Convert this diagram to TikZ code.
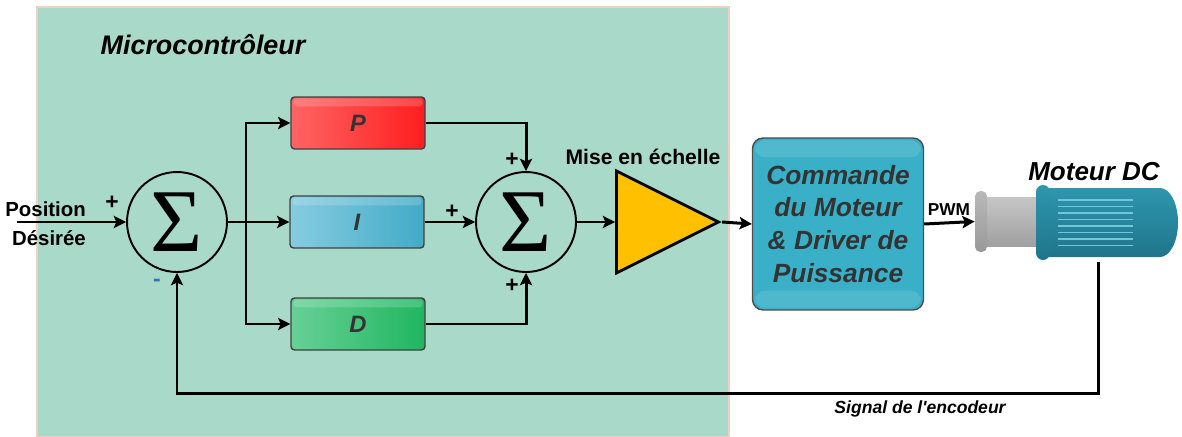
\documentclass[tikz,border=0pt]{standalone}
\usepackage{fontspec}
\setmainfont{Liberation Sans}
\newfontfamily\sigmafont{Liberation Serif}
\usetikzlibrary{arrows.meta}
\usetikzlibrary{shapes.geometric}
\usetikzlibrary{calc}

\definecolor{mcuGreen}{HTML}{A9D9C9}
\definecolor{mcuEdge}{HTML}{F0CFC4}
\definecolor{pLeft}{HTML}{FF6464}
\definecolor{pRight}{HTML}{FF1E1E}
\definecolor{iLeft}{HTML}{86CCE0}
\definecolor{iRight}{HTML}{42ABC7}
\definecolor{dLeft}{HTML}{68D096}
\definecolor{dRight}{HTML}{1FB660}
\definecolor{drvTeal}{HTML}{3AB0C8}
\definecolor{ampGold}{HTML}{FFC000}
\definecolor{txtGray}{HTML}{333333}
\definecolor{minusBlue}{HTML}{2E75B6}
\definecolor{bodyTop}{HTML}{2E96AE}
\definecolor{bodyMid}{HTML}{4FB3CA}
\definecolor{bodyBot}{HTML}{1F758B}
\definecolor{ridge}{HTML}{72C6DA}

\begin{document}
\begin{tikzpicture}[x = 0.02cm, y = -0.02cm, font = \bfseries]
\tikzstyle{WireStyle} = [line width = 1.7pt, -{Stealth[length = 7pt, width = 7pt, inset = 1.5pt]}]
\tikzstyle{LineStyle} = [line width = 1.7pt]
\tikzstyle{SumStyle} = [shape = circle, minimum size = 2cm, inner sep = 0pt, draw, line width = 1.1pt, font = \sigmafont\fontsize{51}{51}\selectfont]
\tikzstyle{GainStyle} = [shape = rectangle, rounded corners = 2pt, minimum width = 2.68cm, minimum height = 1.04cm, draw = black!75, line width = 0.8pt, text = txtGray, font = \fontsize{13.5}{14}\selectfont\bfseries\itshape]
\tikzstyle{GlossStyle} = [white, opacity = 0.18, rounded corners = 2pt]
\tikzstyle{SignStyle} = [inner sep = 0pt, font = \fontsize{13}{13}\selectfont\bfseries]
\tikzstyle{AmpStyle} = [shape = isosceles triangle, isosceles triangle stretches, shape border rotate = 0, minimum width = 2.04cm, minimum height = 2.04cm, inner sep = 0pt, draw, line width = 1.6pt, fill = ampGold]
\tikzstyle{DriverStyle} = [shape = rectangle, rounded corners = 6pt, minimum width = 3.42cm, minimum height = 3.44cm, draw = black!70, line width = 0.8pt, fill = drvTeal, align = center, text = txtGray, font = \fontsize{15}{18.7}\selectfont\bfseries\itshape]
\tikzstyle{ShaftStyle} = [shape = rectangle, minimum width = 1.2cm, minimum height = 1cm, inner sep = 0pt, top color = gray!45, middle color = gray!12, bottom color = gray!75]
\tikzstyle{PlugStyle} = [shape = rectangle, rounded corners = 3pt, minimum width = 0.24cm, minimum height = 1.22cm, inner sep = 0pt, top color = gray!55, middle color = gray!20, bottom color = gray!80]
\tikzstyle{BodyShade} = [top color = bodyTop, middle color = bodyMid, bottom color = bodyBot]
\useasboundingbox (0,0) rectangle (1182,436);
\fill[mcuGreen, draw = mcuEdge, line width = 0.6pt] (37,7) rectangle (729,437);
\node[font = \fontsize{15.3}{18}\selectfont\bfseries\itshape] (mcu) at (203,45) {Microcontrôleur};
\node[SumStyle] (s1) at (177,222) {Σ};
\node[SumStyle] (s2) at (526,222) {Σ};
\node[GainStyle, left color = pLeft, right color = pRight] (kp) at (358,123) {P};
\node[GainStyle, left color = iLeft, right color = iRight] (ki) at (357,222) {I};
\node[GainStyle, left color = dLeft, right color = dRight] (kd) at (358,324) {D};
\foreach \g in {kp, ki, kd}
  \fill[GlossStyle] ($(\g.north west)+(3,2)$) rectangle ($(\g.north east)+(-3,10)$);
\node[AmpStyle] (amp) at (648,222) {};
\node[DriverStyle] (drv) at (838,224) {Commande\\du Moteur\\\& Driver de\\Puissance};
\fill[white, opacity = 0.12, rounded corners = 6pt] ($(drv.north west)+(3,3)$) rectangle ($(drv.north east)+(-3,20)$);
\fill[white, opacity = 0.1, rounded corners = 6pt] ($(drv.south west)+(3,-20)$) rectangle ($(drv.south east)+(-3,-3)$);
\node[ShaftStyle] (shaft) at (1012,222) {};
\node[PlugStyle] (plug) at (981,221.5) {};
\shade[BodyShade] (1046,188) -- (1160,188) arc[start angle = -90, end angle = 90, x radius = 18, y radius = 34.5] -- (1046,257) -- cycle;
\shade[BodyShade, rounded corners = 4pt] (1036,185) rectangle (1050,260);
\foreach \y in {200,206.5,...,247}
  \draw[ridge, line width = 0.9pt] (1058,\y) -- (1133,\y);
\coordinate (in) at (17,222);
\coordinate (br) at (246,222);
\coordinate (enc) at (1098,262);
\coordinate (fbturn) at (177,393);
\node[anchor = east, font = \fontsize{11.6}{14}\selectfont\bfseries] (pos) at (92,209) {Position};
\node[anchor = east, font = \fontsize{11.6}{14}\selectfont\bfseries] (des) at (92,238) {Désirée};
\node[font = \fontsize{12}{14}\selectfont\bfseries] (mise) at (643,157) {Mise en échelle};
\node[font = \fontsize{9.8}{11}\selectfont\bfseries] (pwm) at (949,210) {PWM};
\node[font = \fontsize{14.8}{17}\selectfont\bfseries\itshape] (moteur) at (1094,172) {Moteur DC};
\node[font = \fontsize{10}{12}\selectfont\bfseries\itshape] (enclbl) at (920,409) {Signal de l{\addfontfeature{Ligatures = TeXOff}'}encodeur};
\node[SignStyle] (s1plus) at (112,203) {+};
\node[SignStyle, text = minusBlue] (s1minus) at (157,283) {-};
\node[SignStyle] (s2top) at (512,160) {+};
\node[SignStyle] (s2left) at (452,212) {+};
\node[SignStyle] (s2bot) at (512,286) {+};
\draw[WireStyle] (in) -- (s1.west);
\draw[LineStyle] (s1.east) -- (br);
\draw[WireStyle] (br) |- (kp.west);
\draw[WireStyle] (br) -- (ki.west);
\draw[WireStyle] (br) |- (kd.west);
\draw[WireStyle] (kp.east) -| (s2.north);
\draw[WireStyle] (ki.east) -- (s2.west);
\draw[WireStyle] (kd.east) -| (s2.south);
\draw[WireStyle] (s2.east) -- (amp.west);
\draw[WireStyle] (amp.apex) -- (drv.west);
\draw[WireStyle] (drv.east) -- (plug.west);
\draw[WireStyle] (enc) |- (fbturn) -- (s1.south);
\end{tikzpicture}
\end{document}
